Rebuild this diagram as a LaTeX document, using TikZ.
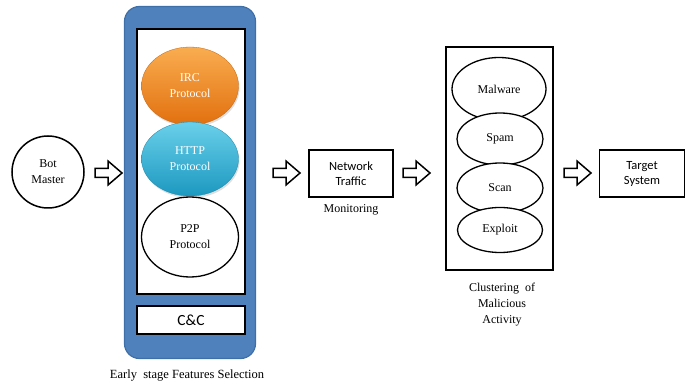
\documentclass[tikz,border=0pt]{standalone}
\usepackage{fontspec}
\setmainfont{Liberation Serif}
\newfontfamily\calib{Carlito}
\usetikzlibrary{shadows,shapes.geometric}
\definecolor{panelblue}{HTML}{4F81BD}
\definecolor{paneledge}{HTML}{3F6FA8}
\definecolor{ircTop}{HTML}{F9AD50}
\definecolor{ircBot}{HTML}{E2700F}
\definecolor{httpTop}{HTML}{6AD0EA}
\definecolor{httpBot}{HTML}{1C98C0}
\tikzset{
  x=1pt, y=-1pt,
  serif/.style={font=\fontsize{12}{16}\selectfont, align=center},
  sans/.style={font=\calib\fontsize{12.5}{15}\selectfont, align=center},
  frame/.style={draw=black, line width=1.6pt, fill=white},
  oval/.style={ellipse, draw=black, line width=1.3pt, fill=white, inner sep=0pt, serif},
  hollowarrow/.pic={
    \draw[line width=1.5pt, fill=white, line join=miter]
      (-13,-4.5) -- (0,-4.5) -- (0,-12) -- (14,0) -- (0,12) -- (0,4.5) -- (-13,4.5) -- cycle;
  }
}
\begin{document}
\begin{tikzpicture}
\useasboundingbox (0,0) rectangle (691,387);

% Bot master
\node[circle, draw=black, line width=1.5pt, minimum size=72pt, inner sep=0pt, serif] (bot) at (48,172) {Bot\\Master};

% first hollow arrow
\pic at (108,173) {hollowarrow};

% early stage panel
\node[draw=paneledge, line width=1.2pt, fill=panelblue, rounded corners=15pt,
      minimum width=131pt, minimum height=352pt, inner sep=0pt] (panel) at (190,182.5) {};
\node[frame, minimum width=108pt, minimum height=265pt, inner sep=0pt] (proto) at (191,161.5) {};
\node[frame, minimum width=108pt, minimum height=28pt, inner sep=0pt,
      font=\calib\fontsize{15.5}{17}\selectfont] (cc) at (191,320) {C\&C};

\node[ellipse, minimum width=97pt, minimum height=78pt, inner sep=0pt,
      top color=ircTop, bottom color=ircBot, draw=ircBot!90!black, line width=0.3pt,
      drop shadow={opacity=0.25, shadow xshift=1pt, shadow yshift=-2pt},
      text=white, serif] (irc) at (190,86) {IRC\\Protocol};
\node[ellipse, minimum width=97pt, minimum height=74pt, inner sep=0pt,
      top color=httpTop, bottom color=httpBot, draw=httpBot!90!black, line width=0.3pt,
      drop shadow={opacity=0.25, shadow xshift=1pt, shadow yshift=-2pt},
      text=white, serif] (http) at (190,159) {HTTP\\Protocol};
\node[oval, minimum width=97pt, minimum height=80pt] (p2p) at (190,237) {P2P\\Protocol};

\node[serif, font=\fontsize{12.5}{14}\selectfont] (early) at (187,376) {Early\ \ stage Features Selection};

% second hollow arrow
\pic at (286,173) {hollowarrow};

% network traffic
\node[frame, minimum width=84pt, minimum height=47pt, inner sep=0pt, sans] (net) at (351,173.5) {Network\\Traffic};
\node[serif] (mon) at (351,210) {Monitoring};

% third hollow arrow
\pic at (416,173) {hollowarrow};

% clustering of malicious activity
\node[frame, minimum width=107pt, minimum height=223pt, inner sep=0pt] (clus) at (499.5,158.5) {};
\node[oval, minimum width=94pt, minimum height=63pt] (malware) at (499,89) {Malware};
\node[oval, minimum width=86pt, minimum height=52pt] (spam) at (500,139) {Spam};
\node[oval, minimum width=86pt, minimum height=50pt] (scan) at (500,188) {Scan};
\node[oval, minimum width=85pt, minimum height=45pt] (exploit) at (500,230) {Exploit};
\node[serif] (clusl) at (502,305) {Clustering\ \ of\\Malicious\\Activity};

% fourth hollow arrow
\pic at (577,173) {hollowarrow};

% target system
\node[frame, minimum width=85pt, minimum height=47pt, inner sep=0pt, sans] (target) at (642,173.5) {Target\\System};
\end{tikzpicture}
\end{document}
